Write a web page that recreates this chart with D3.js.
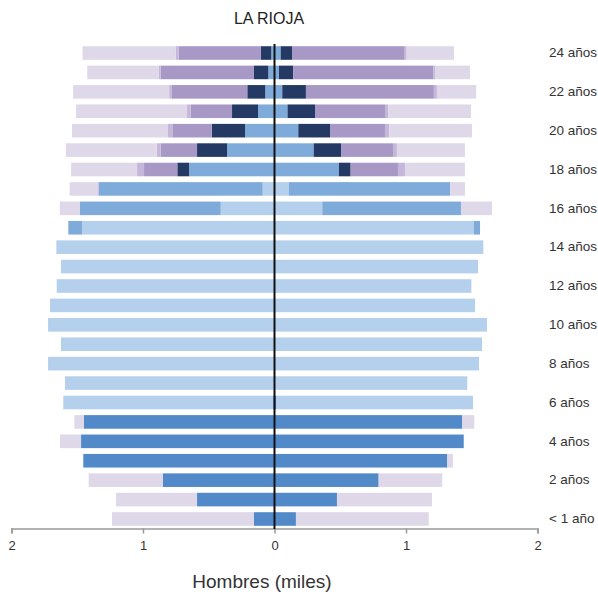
<!DOCTYPE html>
<html><head><meta charset="utf-8">
<script src="https://cdn.jsdelivr.net/npm/d3@7"></script>
<style>body{margin:0;background:#fff;font-family:Arial,"Liberation Sans",sans-serif}</style>
</head><body><svg id="c" width="598" height="594"></svg>
<script>
const title = "LA RIOJA";
const xLabel = "Hombres (miles)";
const ages = ["< 1 año","1 año","2 años","3 años","4 años","5 años","6 años","7 años","8 años","9 años","10 años","11 años","12 años","13 años","14 años","15 años","16 años","17 años","18 años","19 años","20 años","21 años","22 años","23 años","24 años"];
const categories = ["Infantil","Obligatoria","Postobligatoria","FP superior","Universidad","Otros estudios","No estudia"];
const colors = ["#5289C8","#B5D0EC","#7FABDB","#243A65","#A898C6","#C4B7D9","#DFD8E9"];
const xTicks = [-2,-1,0,1,2];

// left side values (thousands), index = age
const leftInfantil   = [0.156,0.589,0.850,1.454,1.471,1.449,0.010,0,0,0,0,0,0,0,0,0,0,0,0,0,0,0,0,0,0];
const leftObligatoria= [0,0,0,0,0,0,1.596,1.593,1.722,1.624,1.722,1.707,1.656,1.624,1.659,1.464,0.409,0.090,0,0,0,0,0,0,0];
const leftPostoblig  = [0,0,0,0,0,0,0,0,0,0,0,0,0,0,0,0.104,1.070,1.247,0.650,0.361,0.224,0.125,0.070,0.047,0.024];
const leftFPsup      = [0,0,0,0,0,0,0,0,0,0,0,0,0,0,0,0,0,0,0.089,0.228,0.253,0.198,0.137,0.109,0.081];
const leftUniv       = [0,0,0,0,0,0,0,0,0,0,0,0,0,0,0,0,0,0,0.253,0.276,0.300,0.314,0.573,0.710,0.624];
const leftOtros      = [0,0,0,0,0,0,0,0,0,0,0,0,0,0,0,0,0,0.010,0.053,0.030,0.033,0.028,0.021,0.013,0.021];
const leftNoEstudia  = [1.080,0.616,0.563,0,0.160,0.073,0,0,0,0,0,0,0,0,0,0,0.154,0.211,0.502,0.692,0.730,0.844,0.730,0.545,0.710];

// right side values
const rightInfantil   = [0.163,0.475,0.792,1.314,1.439,1.428,0.015,0,0,0,0,0,0,0,0,0,0,0,0,0,0,0,0,0,0];
const rightObligatoria= [0,0,0,0,0,0,1.495,1.466,1.555,1.578,1.616,1.525,1.497,1.548,1.588,1.517,0.363,0.110,0,0,0,0,0,0,0];
const rightPostoblig  = [0,0,0,0,0,0,0,0,0,0,0,0,0,0,0,0.046,1.055,1.227,0.490,0.298,0.181,0.099,0.059,0.034,0.047];
const rightFPsup      = [0,0,0,0,0,0,0,0,0,0,0,0,0,0,0,0,0,0,0.089,0.208,0.241,0.209,0.180,0.109,0.086];
const rightUniv       = [0,0,0,0,0,0,0,0,0,0,0,0,0,0,0,0,0,0,0.360,0.395,0.418,0.532,0.973,1.065,0.857];
const rightOtros      = [0,0,0,0,0,0,0,0,0,0,0,0,0,0,0,0,0,0,0.053,0.030,0.033,0.025,0.023,0.013,0.015];
const rightNoEstudia  = [1.010,0.723,0.484,0.043,0,0.091,0,0,0,0,0,0,0,0,0,0,0.236,0.112,0.456,0.517,0.629,0.629,0.299,0.266,0.360];

const leftSeries = [leftInfantil,leftObligatoria,leftPostoblig,leftFPsup,leftUniv,leftOtros,leftNoEstudia];
const rightSeries = [rightInfantil,rightObligatoria,rightPostoblig,rightFPsup,rightUniv,rightOtros,rightNoEstudia];

const svg = d3.select("#c");
const x = d3.scaleLinear().domain([-2,2]).range([11.5,537.5]);
const y = d3.scaleBand().domain(ages.slice().reverse()).range([43.3,528.7]).paddingInner(0.3).paddingOuter(0.15);

function stackSide(series, sign){
  const rows = ages.map((a,i)=>{const o={age:a}; categories.forEach((c,k)=>o[c]=series[k][i]); return o;});
  const st = d3.stack().keys(categories)(rows);
  st.forEach((layer,k)=>{
    svg.append("g").selectAll("rect").data(layer).join("rect")
      .attr("x", d=> sign<0 ? x(-d[1]) : x(d[0]))
      .attr("width", d=> Math.max(0, x(d[1]) - x(d[0])))
      .attr("y", d=> y(d.data.age))
      .attr("height", y.bandwidth())
      .attr("fill", colors[k]);
  });
}
stackSide(leftSeries,-1);
stackSide(rightSeries,1);

// bottom axis
const ax = svg.append("g").attr("transform","translate(0,528.5)")
  .call(d3.axisBottom(x).tickValues(xTicks).tickFormat(d=>Math.abs(d)).tickSize(5).tickPadding(7));
ax.select(".domain").attr("stroke","#999").attr("stroke-width",1.5);
ax.selectAll(".tick line").attr("stroke","#999").attr("stroke-width",1.5);
ax.selectAll("text").attr("font-size",13).attr("fill","#333").attr("font-family","Arial,'Liberation Sans',sans-serif");

// zero line
svg.append("line").attr("x1",x(0)).attr("x2",x(0)).attr("y1",44).attr("y2",529)
  .attr("stroke","#111").attr("stroke-width",2);

// age labels (right)
const ay = svg.append("g").attr("transform","translate(543,0)")
  .call(d3.axisRight(y).tickValues(ages.filter((a,i)=>i%2===0)).tickSize(0).tickPadding(6));
ay.select(".domain").remove();
ay.selectAll("text").attr("font-size",13.5).attr("fill","#333").attr("font-family","Arial,'Liberation Sans',sans-serif");

svg.append("text").attr("x",269).attr("y",24).attr("text-anchor","middle")
  .attr("font-size",16).attr("fill","#222").text(title);
svg.append("text").attr("x",262).attr("y",588).attr("text-anchor","middle")
  .attr("font-size",19).attr("fill","#333").text(xLabel);
</script></body></html>
